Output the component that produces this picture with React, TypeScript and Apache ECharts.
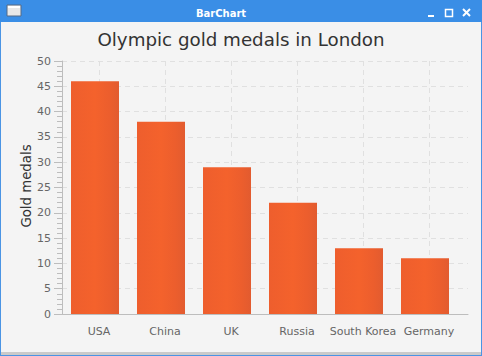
import React, { useEffect, useRef } from "react";
import * as echarts from "echarts";

const categories = ["USA", "China", "UK", "Russia", "South Korea", "Germany"];
const medals = [46, 38, 29, 22, 13, 11];
const chartTitle = "Olympic gold medals in London";
const yAxisTitle = "Gold medals";
const windowTitle = "BarChart";

const FONT = "'DejaVu Sans', sans-serif";
const AXIS = "#bdbdbd";
const GRIDLINE = "#e0e0e0";

export default function App() {
  const ref = useRef<HTMLDivElement>(null);
  useEffect(() => {
    document.body.style.margin = "0";
    const chart = echarts.init(ref.current!, undefined, { renderer: "svg" });
    chart.setOption({
      animation: false,
      backgroundColor: "#f4f4f4",
      title: {
        text: chartTitle,
        left: "center",
        top: 25,
        textStyle: { fontFamily: FONT, fontSize: 18.25, fontWeight: "normal", color: "#333333" },
      },
      grid: [
        { left: 62, top: 61, width: 396, height: 253 },
        { left: 62, top: 61, width: 406, height: 253 },
        { left: 66, top: 61, width: 396, height: 253 },
      ],
      xAxis: [
        { type: "category", gridIndex: 0, data: categories, show: false },
        {
          type: "value",
          gridIndex: 1,
          min: 0,
          max: 1,
          axisLine: { show: true, onZero: false, lineStyle: { color: AXIS } },
          axisTick: { show: false },
          axisLabel: { show: false },
          splitLine: { show: false },
        },
        {
          type: "category",
          gridIndex: 2,
          data: categories,
          axisLine: { show: false },
          axisTick: { alignWithLabel: true, length: 8, lineStyle: { color: AXIS } },
          axisLabel: { fontFamily: FONT, fontSize: 11, color: "#666666", margin: 12, interval: 0 },
          splitLine: { show: true, alignWithLabel: true, lineStyle: { color: GRIDLINE, type: [5, 4] } },
        },
      ],
      yAxis: [
        { type: "value", gridIndex: 0, min: 0, max: 50, show: false, splitLine: { show: false } },
        {
          type: "value",
          gridIndex: 1,
          min: 0,
          max: 50,
          interval: 5,
          axisLine: { show: true, onZero: false, lineStyle: { color: AXIS } },
          axisTick: { show: true, length: 8, lineStyle: { color: AXIS } },
          minorTick: { show: true, splitNumber: 5, length: 5, lineStyle: { color: AXIS } },
          axisLabel: { fontFamily: FONT, fontSize: 11, color: "#666666", margin: 11 },
          splitLine: { show: true, lineStyle: { color: GRIDLINE, type: [5, 4] } },
        },
        { type: "value", gridIndex: 2, min: 0, max: 50, show: false, splitLine: { show: false } },
      ],
      series: [
        {
          type: "bar",
          xAxisIndex: 0,
          yAxisIndex: 0,
          data: medals,
          barWidth: 48,
          z: 5,
          itemStyle: {
            color: {
              type: "linear",
              x: 0,
              y: 0,
              x2: 1,
              y2: 0,
              colorStops: [
                { offset: 0, color: "#ee5e2d" },
                { offset: 0.5, color: "#f4622c" },
                { offset: 0.8, color: "#ec5e2d" },
                { offset: 1, color: "#e25b2f" },
              ],
            },
          },
        },
      ],
      graphic: [
        {
          type: "text",
          z: 50,
          x: 26,
          y: 186,
          rotation: Math.PI / 2,
          style: {
            text: yAxisTitle,
            fontFamily: FONT,
            fontSize: 13.3,
            fill: "#333333",
            textAlign: "center",
            textVerticalAlign: "middle",
          },
        },
        { type: "rect", z: 100, shape: { x: 0, y: 0, width: 482, height: 22 }, style: { fill: "#3a8ee6" } },
        { type: "rect", z: 100, shape: { x: 0, y: 22, width: 1, height: 334 }, style: { fill: "#4a94e4" } },
        { type: "rect", z: 100, shape: { x: 481, y: 22, width: 1, height: 334 }, style: { fill: "#4a94e4" } },
        { type: "rect", z: 100, shape: { x: 1, y: 352, width: 480, height: 3 }, style: { fill: "#cacaca" } },
        { type: "rect", z: 100, shape: { x: 0, y: 355, width: 482, height: 1 }, style: { fill: "#4a94e4" } },
        { type: "rect", z: 101, shape: { x: 7, y: 5, width: 14, height: 11 }, style: { fill: "#e8e8e8", stroke: "#556b86", lineWidth: 1 } },
        { type: "rect", z: 102, shape: { x: 8, y: 6, width: 12, height: 2 }, style: { fill: "#ffffff" } },
        {
          type: "text",
          z: 101,
          x: 221,
          y: 13,
          style: {
            text: windowTitle,
            fontFamily: FONT,
            fontSize: 10,
            fontWeight: "bold",
            fill: "#ffffff",
            textAlign: "center",
            textVerticalAlign: "middle",
          },
        },
        { type: "rect", z: 101, shape: { x: 428, y: 15, width: 6, height: 2 }, style: { fill: "#ffffff" } },
        { type: "rect", z: 101, shape: { x: 445.5, y: 9.5, width: 7, height: 7 }, style: { fill: "none", stroke: "#ffffff", lineWidth: 1.5 } },
        { type: "line", z: 101, shape: { x1: 463, y1: 9, x2: 470, y2: 16 }, style: { stroke: "#ffffff", lineWidth: 2 } },
        { type: "line", z: 101, shape: { x1: 470, y1: 9, x2: 463, y2: 16 }, style: { stroke: "#ffffff", lineWidth: 2 } },
      ],
    });
    return () => chart.dispose();
  }, []);
  return <div ref={ref} style={{ width: 482, height: 356 }} />;
}
